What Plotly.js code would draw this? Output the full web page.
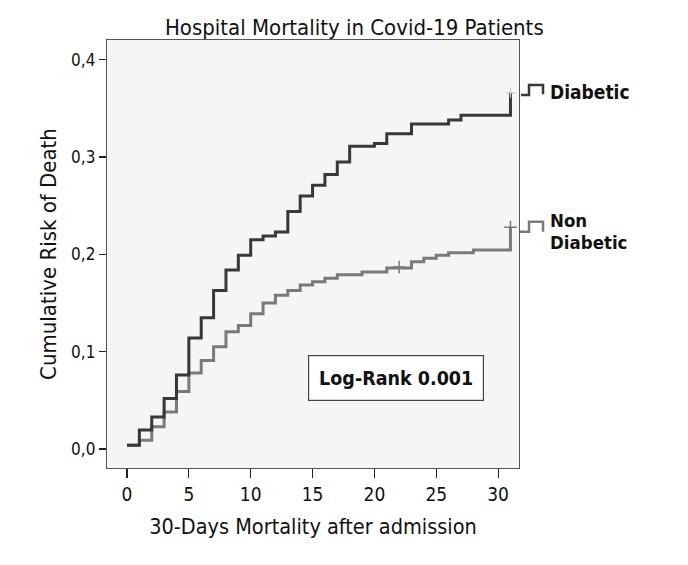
<!DOCTYPE html>
<html>
<head>
<meta charset="utf-8">
<script src="https://cdn.plot.ly/plotly-3.0.1.min.js"></script>
<style>html,body{margin:0;padding:0;background:#ffffff;}#chart{width:688px;height:565px;}</style>
</head>
<body>
<div id="chart"></div>
<script>
// Diabetic group: event times (days) and cumulative risk
const timeDiab = [0,1,2,3,4,5,6,7,8,9,10,11,12,13,14,15,16,17,18,20,21,23,26,27,31];
const riskDiab = [0.004,0.0195,0.033,0.052,0.076,0.114,0.135,0.163,0.184,0.199,0.215,0.219,0.223,0.244,0.26,0.271,0.282,0.295,0.311,0.314,0.324,0.334,0.338,0.343,0.366];
// Non diabetic group
const timeNon = [0,1,2,3,4,5,6,7,8,9,10,11,12,13,14,15,16,17,19,21,23,24,25,26,28,31];
const riskNon = [0.004,0.009,0.023,0.038,0.059,0.078,0.091,0.105,0.1205,0.127,0.139,0.150,0.158,0.163,0.1685,0.172,0.1755,0.179,0.182,0.186,0.1925,0.196,0.199,0.2017,0.2045,0.228];
// censored observations
const censorTimeNon = [22, 31];
const censorRiskNon = [0.187, 0.228];
const censorTimeDiab = [31];
const censorRiskDiab = [0.366];
const xTicks = [0,5,10,15,20,25,30];
const yTicks = [0,0.1,0.2,0.3,0.4];
const legendLines = ['Diabetic', 'Non', 'Diabetic'];

const FONT = 'DejaVu Sans Condensed, Liberation Sans Narrow, Open Sans, sans-serif';
const dark = '#383838', grey = '#7a7a7a';

const traces = [
  {x: timeNon, y: riskNon, mode: 'lines', line: {shape: 'hv', color: grey, width: 3}, showlegend: false, hoverinfo: 'skip'},
  {x: timeDiab, y: riskDiab, mode: 'lines', line: {shape: 'hv', color: dark, width: 3}, showlegend: false, hoverinfo: 'skip'},
  {x: censorTimeNon, y: censorRiskNon, mode: 'markers', marker: {symbol: 'cross-thin', size: 9, line: {color: grey, width: 1.5}}, showlegend: false, hoverinfo: 'skip'},
  {x: censorTimeDiab, y: censorRiskDiab, mode: 'markers', marker: {symbol: 'cross-thin', size: 7, line: {color: '#c8c8c8', width: 1.2}}, showlegend: false, hoverinfo: 'skip'}
];

const layout = {
  width: 688, height: 565,
  margin: {l: 107, r: 169, t: 40, b: 97},
  paper_bgcolor: '#ffffff',
  plot_bgcolor: '#f5f5f5',
  separators: ', ',
  font: {family: FONT, color: '#111'},
  title: {text: 'Hospital Mortality in Covid-19 Patients', font: {family: FONT, size: 22, color: '#111'},
          x: 0.515, xref: 'container', xanchor: 'center', y: 0.951, yref: 'container', yanchor: 'middle'},
  xaxis: {
    range: [-1.617, 31.69], tickvals: xTicks, ticks: 'outside', ticklen: 9, tickwidth: 1.2, tickcolor: '#222',
    showgrid: false, zeroline: false, showline: true, linecolor: '#555', linewidth: 1.2, mirror: true,
    tickfont: {family: FONT, size: 19, color: '#111'},
    title: {text: '30-Days Mortality after admission', font: {family: FONT, size: 21.5, color: '#111'}, standoff: 15}
  },
  yaxis: {
    range: [-0.0195, 0.4203], tickvals: yTicks, tickformat: '.1f', ticks: 'outside', ticklen: 7, tickwidth: 1.2, tickcolor: '#222',
    showgrid: false, zeroline: false, showline: true, linecolor: '#555', linewidth: 1.2, mirror: true,
    tickfont: {family: FONT, size: 17, color: '#111'},
    title: {text: 'Cumulative Risk of Death', font: {family: FONT, size: 22, color: '#111'}, standoff: 8}
  },
  shapes: [
    {type: 'path', xref: 'paper', yref: 'paper', path: 'M 1.0049,0.8715 L 1.0243,0.8715 L 1.0243,0.8949 L 1.0583,0.8949 L 1.0583,0.873',
     line: {color: dark, width: 2.5}},
    {type: 'path', xref: 'paper', yref: 'paper', path: 'M 1.0024,0.5521 L 1.0243,0.5521 L 1.0243,0.5755 L 1.0583,0.5755 L 1.0583,0.552',
     line: {color: grey, width: 2.5}}
  ],
  annotations: [
    {text: '<b>' + legendLines[0] + '</b>', xref: 'paper', yref: 'paper', x: 1.0704, y: 0.879, xanchor: 'left', yanchor: 'middle',
     showarrow: false, font: {family: FONT, size: 19, color: '#111'}},
    {text: '<b>' + legendLines[1] + '</b>', xref: 'paper', yref: 'paper', x: 1.0704, y: 0.579, xanchor: 'left', yanchor: 'middle',
     showarrow: false, font: {family: FONT, size: 18.5, color: '#111'}},
    {text: '<b>' + legendLines[2] + '</b>', xref: 'paper', yref: 'paper', x: 1.0704, y: 0.528, xanchor: 'left', yanchor: 'middle',
     showarrow: false, font: {family: FONT, size: 18.5, color: '#111'}},
    {text: '<b>Log-Rank 0.001</b>', xref: 'paper', yref: 'paper', x: 0.7007, y: 0.2103, xanchor: 'center', yanchor: 'middle',
     showarrow: false, bgcolor: '#ffffff', bordercolor: '#444', borderwidth: 1.2, width: 172, height: 42,
     font: {family: FONT, size: 19.5, color: '#111'}}
  ]
};

Plotly.newPlot('chart', traces, layout, {displayModeBar: false, staticPlot: true});
</script>
</body>
</html>
